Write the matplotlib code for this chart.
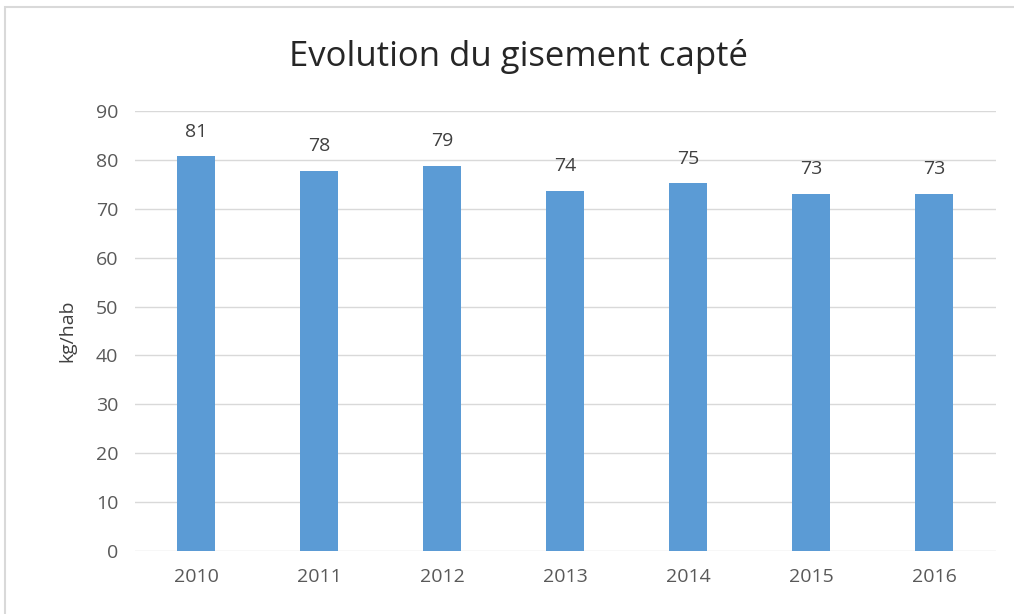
import matplotlib.pyplot as plt
from matplotlib.patches import Rectangle

annees = ['2010', '2011', '2012', '2013', '2014', '2015', '2016']
gisement = [80.8, 77.8, 78.8, 73.7, 75.3, 73.1, 73.1]

plt.rcParams['font.family'] = ['Open Sans', 'DejaVu Sans']

fig = plt.figure(figsize=(10.14, 6.14), dpi=100)
ax = fig.add_axes([0.133, 0.1026, 0.849, 0.7166])

# cadre gris autour du graphique
fig.patches.append(Rectangle((0.005, -0.01), 1.1, 0.998, transform=fig.transFigure,
                             fill=False, edgecolor='#d9d9d9', linewidth=1.5))

x = range(len(annees))
bars = ax.bar(x, gisement, width=0.31, color='#5b9bd5', zorder=3)
for b, v in zip(bars, gisement):
    ax.annotate(f"{v:.0f}", (b.get_x() + b.get_width() / 2, v),
                xytext=(0, 11), textcoords='offset points',
                ha='center', va='bottom', fontsize=14, color='#404040')

ax.set_xlim(-0.5, 6.5)
ax.set_ylim(0, 90)
ax.set_yticks(range(0, 91, 10))
ax.set_xticks(list(x))
ax.set_xticklabels(annees)
ax.grid(axis='y', color='#d9d9d9', linewidth=1, zorder=0)
for s in ax.spines.values():
    s.set_visible(False)
ax.tick_params(length=0, labelsize=14, labelcolor='#595959', pad=12)
ax.set_ylabel('kg/hab', fontsize=14, color='#404040', labelpad=14)

fig.text(0.511, 0.908, 'Evolution du gisement capté', ha='center', va='center',
         fontsize=25, color='#262626')

plt.savefig('out.png', dpi=100)
